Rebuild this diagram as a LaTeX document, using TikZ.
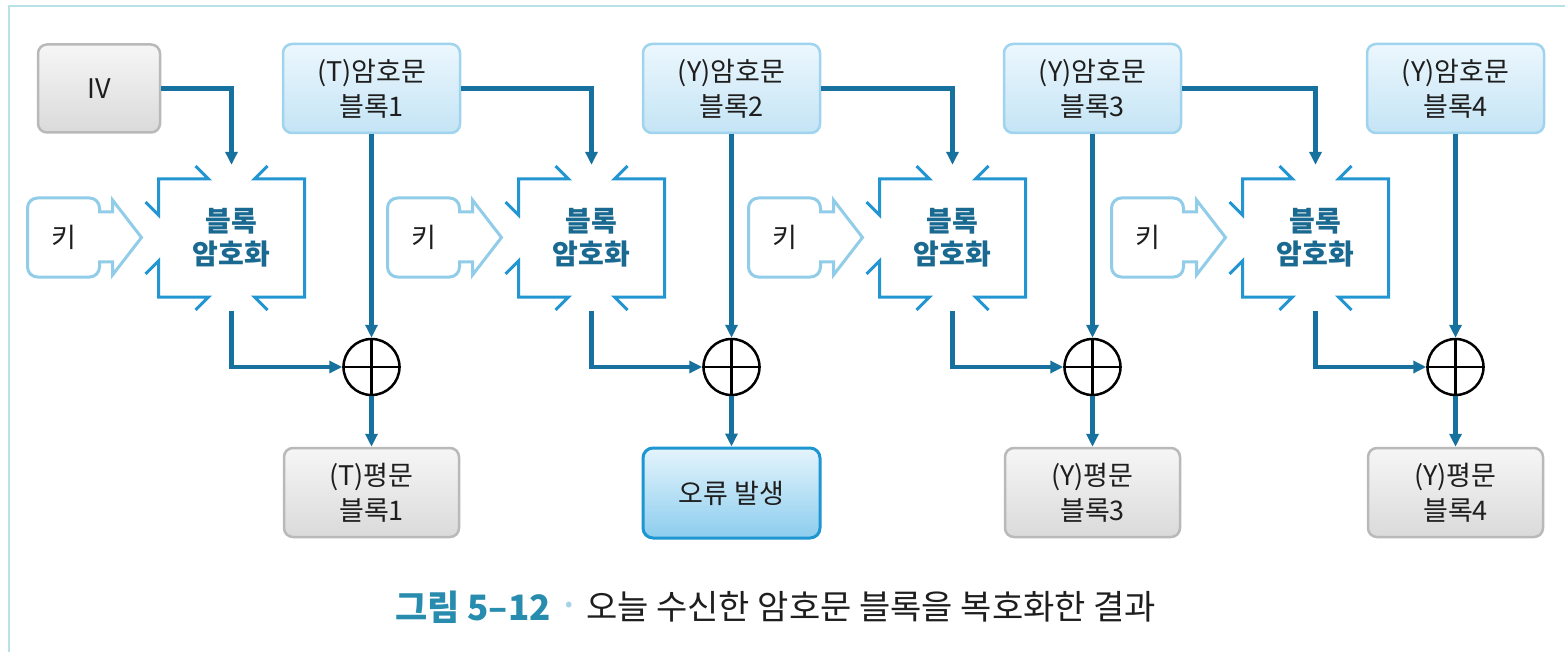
\documentclass[tikz,border=0pt]{standalone}
\usepackage{fontspec}
\setmainfont{Noto Sans CJK KR}
\usetikzlibrary{arrows.meta,calc}
\definecolor{arrowc}{RGB}{22,113,158}
\definecolor{encc}{RGB}{35,150,210}
\definecolor{enctext}{RGB}{25,105,145}
\definecolor{keyc}{RGB}{145,205,232}
\definecolor{grayb}{RGB}{185,185,185}
\definecolor{grayt}{RGB}{246,246,246}
\definecolor{grayl}{RGB}{218,218,218}
\definecolor{blueb}{RGB}{160,212,238}
\definecolor{bluet}{RGB}{236,247,253}
\definecolor{bluel}{RGB}{196,228,245}
\definecolor{errb}{RGB}{30,150,210}
\definecolor{errt}{RGB}{228,244,252}
\definecolor{errl}{RGB}{140,205,238}
\definecolor{framec}{RGB}{185,225,232}
\definecolor{capc}{RGB}{40,140,175}
\definecolor{dotc}{RGB}{165,212,230}
\definecolor{txtc}{RGB}{30,30,30}
\tikzset{
  boxtext/.style={align=center, text=txtc, font=\fontsize{27}{35}\selectfont},
  graybox/.style={boxtext, draw=grayb, line width=2.5pt, rounded corners=9pt,
    top color=grayt, bottom color=grayl, minimum width=175pt, minimum height=89pt, inner sep=0pt},
  ivbox/.style={graybox, minimum width=122pt, minimum height=88pt},
  bluebox/.style={boxtext, draw=blueb, line width=2.5pt, rounded corners=9pt,
    top color=bluet, bottom color=bluel, minimum width=177pt, minimum height=89pt, inner sep=0pt},
  errbox/.style={boxtext, draw=errb, line width=3pt, rounded corners=10pt,
    top color=errt, bottom color=errl, minimum width=177pt, minimum height=90pt, inner sep=0pt},
  enctxt/.style={align=center, text=enctext, font=\fontsize{28}{33}\selectfont\bfseries,
    minimum width=146pt, minimum height=146pt, inner sep=0pt},
  encshape/.style={draw=encc, line width=3pt, miter limit=10},
  keyshape/.style={draw=keyc, line width=3pt, fill=white},
  keytxt/.style={boxtext, inner sep=0pt},
  xorc/.style={circle, draw=black, line width=2.5pt, minimum size=56pt, inner sep=0pt},
  conn/.style={draw=arrowc, line width=4.5pt, -{Triangle[length=13pt,width=12pt]}},
}
\begin{document}
\begin{tikzpicture}[x=1pt,y=-1pt]
\useasboundingbox (0,0) rectangle (1565,652);
\fill[white] (0,0) rectangle (1565,652);
\draw[framec, line width=2.5pt] (9,652) -- (9,6) -- (1565,6);

% IV
\node[ivbox] (iv) at (99,88.5) {IV};

% columns
\foreach \i/\cx/\lab in {1/371.5/(T), 2/731.5/(Y), 3/1092.5/(Y), 4/1455.5/(Y)}{
  \pgfmathsetmacro{\ex}{\cx-140}
  \pgfmathsetmacro{\kx}{\ex-204}
  \node[bluebox] (c\i) at (\cx,88.5) {\lab 암호문\\블록\i};
  \node[xorc] (x\i) at (\cx,367) {};
  \draw[black, line width=2.5pt] (x\i.north) -- (x\i.south) (x\i.west) -- (x\i.east);
  % key shape
  \draw[keyshape] (\kx+72,262) [rounded corners=10pt] -- (\kx+72,277) -- (\kx,277) -- (\kx,198) -- (\kx+72,198) [sharp corners] -- (\kx+72,212)
     -- (\kx+85,212) -- (\kx+85,200) -- (\kx+114,237.5) -- (\kx+85,275) -- (\kx+85,262) -- cycle;
  \node[keytxt] (k\i) at (\kx+36,237.5) {키};
  % encryption block
  \node[enctxt] (e\i) at (\ex,238) {블록\\암호화};
  \draw[encshape] (\ex-36,166) -- (\ex-23,179) -- (\ex-73,179) -- (\ex-73,215) -- (\ex-86,202);
  \draw[encshape] (\ex-36,310) -- (\ex-23,297) -- (\ex-73,297) -- (\ex-73,261) -- (\ex-86,274);
  \draw[encshape] (\ex+36,166) -- (\ex+23,179) -- (\ex+73,179) -- (\ex+73,297) -- (\ex+23,297) -- (\ex+36,310);
  \draw[conn] (c\i.south) -- (x\i.north);
  \draw[conn] (e\i.south) |- (x\i.west);
}
\node[graybox] (p1) at (371.5,492.5) {(T)평문\\블록1};
\node[errbox] (err) at (731.5,493) {오류 발생};
\node[graybox] (p3) at (1092.5,492.5) {(Y)평문\\블록3};
\node[graybox] (p4) at (1455.5,492.5) {(Y)평문\\블록4};

\draw[conn] (iv.east) -| (e1.north);
\draw[conn] (c1.east) -| (e2.north);
\draw[conn] (c2.east) -| (e3.north);
\draw[conn] (c3.east) -| (e4.north);
\draw[conn] (x1.south) -- (p1.north);
\draw[conn] (x2.south) -- (err.north);
\draw[conn] (x3.south) -- (p3.north);
\draw[conn] (x4.south) -- (p4.north);

% caption
\node[anchor=west, inner sep=0pt, text=capc, font=\fontsize{35}{36}\selectfont\bfseries] (cap1) at (395,607) {그림 5–12};
\node[anchor=center, inner sep=0pt, text=dotc, font=\fontsize{22}{22}\selectfont] (capdot) at (569,607) {•};
\node[anchor=west, inner sep=0pt, text=txtc, font=\fontsize{34}{36}\selectfont] (cap2) at (586,607) {오늘 수신한 암호문 블록을 복호화한 결과};
\end{tikzpicture}
\end{document}
